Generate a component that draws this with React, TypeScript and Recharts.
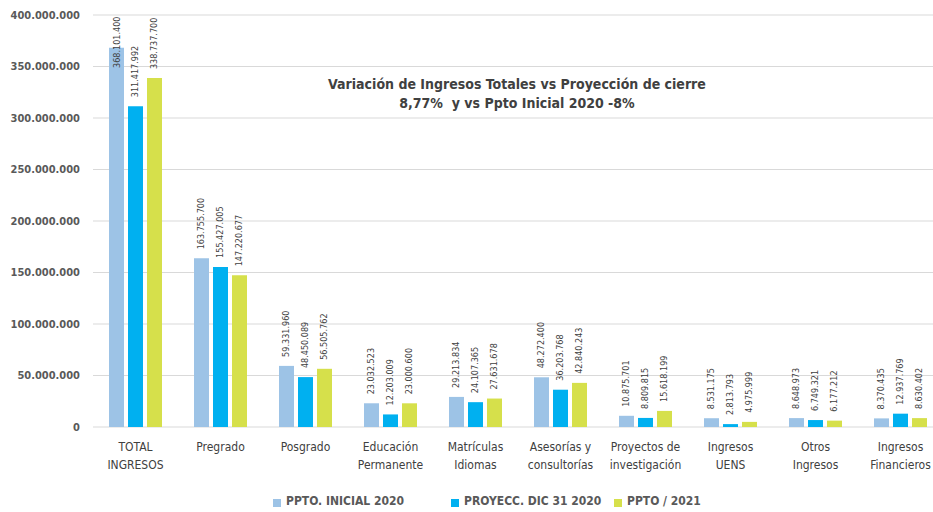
import { BarChart, Bar, XAxis, YAxis, CartesianGrid, Legend, LabelList } from 'recharts';

const categorias = [
  'TOTAL\nINGRESOS',
  'Pregrado',
  'Posgrado',
  'Educación\nPermanente',
  'Matrículas\nIdiomas',
  'Asesorías y\nconsultorías',
  'Proyectos de\ninvestigación',
  'Ingresos\nUENS',
  'Otros\nIngresos',
  'Ingresos\nFinancieros',
];

const pptoInicial2020 = [368101400, 163755700, 59331960, 23032523, 29213834, 48272400, 10875701, 8531175, 8648973, 8370435];
const proyeccDic2020 = [311417992, 155427005, 48450089, 12203009, 24107365, 36203768, 8809815, 2813793, 6749321, 12937769];
const ppto2021 = [338737700, 147220677, 56505762, 23000600, 27631678, 42840243, 15618199, 4975999, 6177212, 8630402];

const ticksY = [0, 50000000, 100000000, 150000000, 200000000, 250000000, 300000000, 350000000, 400000000];

const series = [
  { key: 'inicial', name: 'PPTO. INICIAL 2020', color: '#9DC3E6' },
  { key: 'proyecc', name: 'PROYECC. DIC 31 2020', color: '#00B0F0' },
  { key: 'ppto21', name: 'PPTO / 2021', color: '#D6E04B' },
];

const data = categorias.map((cat, i) => ({
  cat,
  inicial: pptoInicial2020[i],
  proyecc: proyeccDic2020[i],
  ppto21: ppto2021[i],
}));

const FONT = '"DejaVu Sans Condensed", "DejaVu Sans", sans-serif';

const formatNum = (v: number) => String(Math.round(v)).replace(/\B(?=(\d{3})+(?!\d))/g, '.');

const CategoryTick = (props: any) => {
  const { x, y, payload } = props;
  const lines = String(payload.value).split('\n');
  return (
    <text x={x} y={y} textAnchor="middle" fill="#404040" fontSize={12} fontFamily={FONT}>
      {lines.map((l, i) => (
        <tspan key={i} x={x} dy={i === 0 ? 16 : 18}>{l}</tspan>
      ))}
    </text>
  );
};

const ValueLabel = (props: any) => {
  const { x, y, width, value } = props;
  const cx = x + width / 2;
  const ty = Math.max(y - 9, 68);
  return (
    <text
      x={cx}
      y={ty}
      transform={`rotate(-90, ${cx}, ${ty})`}
      textAnchor="start"
      dominantBaseline="central"
      fill="#404040"
      fontSize={9}
      fontFamily={FONT}
    >
      {formatNum(value)}
    </text>
  );
};

const Leyenda = () => (
  <div style={{ height: 25, position: 'relative', fontFamily: FONT, fontSize: 12, fontWeight: 'bold', color: '#595959' }}>
    {series.map((s, i) => (
      <div key={s.key} style={{ position: 'absolute', left: [273, 451, 614][i], top: 7, display: 'flex', alignItems: 'center', whiteSpace: 'nowrap' }}>
        <span style={{ display: 'inline-block', width: 8, height: 8, background: s.color, marginRight: 5, marginTop: 3 }} />
        <span>{s.name}</span>
      </div>
    ))}
  </div>
);

export default function App() {
  return (
    <div style={{ position: 'fixed', left: 0, top: 0, width: 933, height: 512, overflow: 'hidden', background: '#fff' }}>
      <BarChart
        width={950}
        height={512}
        data={data}
        margin={{ top: 15, right: 7, left: 0, bottom: 0 }}
        barCategoryGap={16}
        barGap={4}
      >
        <CartesianGrid vertical={false} stroke="#D9D9D9" strokeWidth={1} />
        <XAxis
          dataKey="cat"
          axisLine={false}
          tickLine={false}
          interval={0}
          height={60}
          tick={<CategoryTick />}
        />
        <YAxis
          domain={[0, 400000000]}
          ticks={ticksY}
          width={93}
          axisLine={false}
          tickLine={false}
          tickSize={6}
          tickMargin={7}
          tickFormatter={formatNum}
          tick={{ fill: '#595959', fontSize: 11, fontWeight: 'bold', fontFamily: FONT }}
        />
        <Legend verticalAlign="bottom" height={25} content={<Leyenda />} />
        {series.map(s => (
          <Bar key={s.key} dataKey={s.key} name={s.name} fill={s.color} isAnimationActive={false}>
            <LabelList dataKey={s.key} content={<ValueLabel />} />
          </Bar>
        ))}
      </BarChart>
      <div
        style={{
          position: 'absolute',
          left: 297,
          width: 440,
          top: 75,
          textAlign: 'center',
          fontFamily: FONT,
          fontWeight: 'bold',
          fontSize: 14,
          lineHeight: '19px',
          color: '#404040',
        }}
      >
        <div>Variación de Ingresos Totales vs Proyección de cierre</div>
        <div>8,77%&nbsp; y vs Ppto Inicial 2020 -8%</div>
      </div>
    </div>
  );
}
